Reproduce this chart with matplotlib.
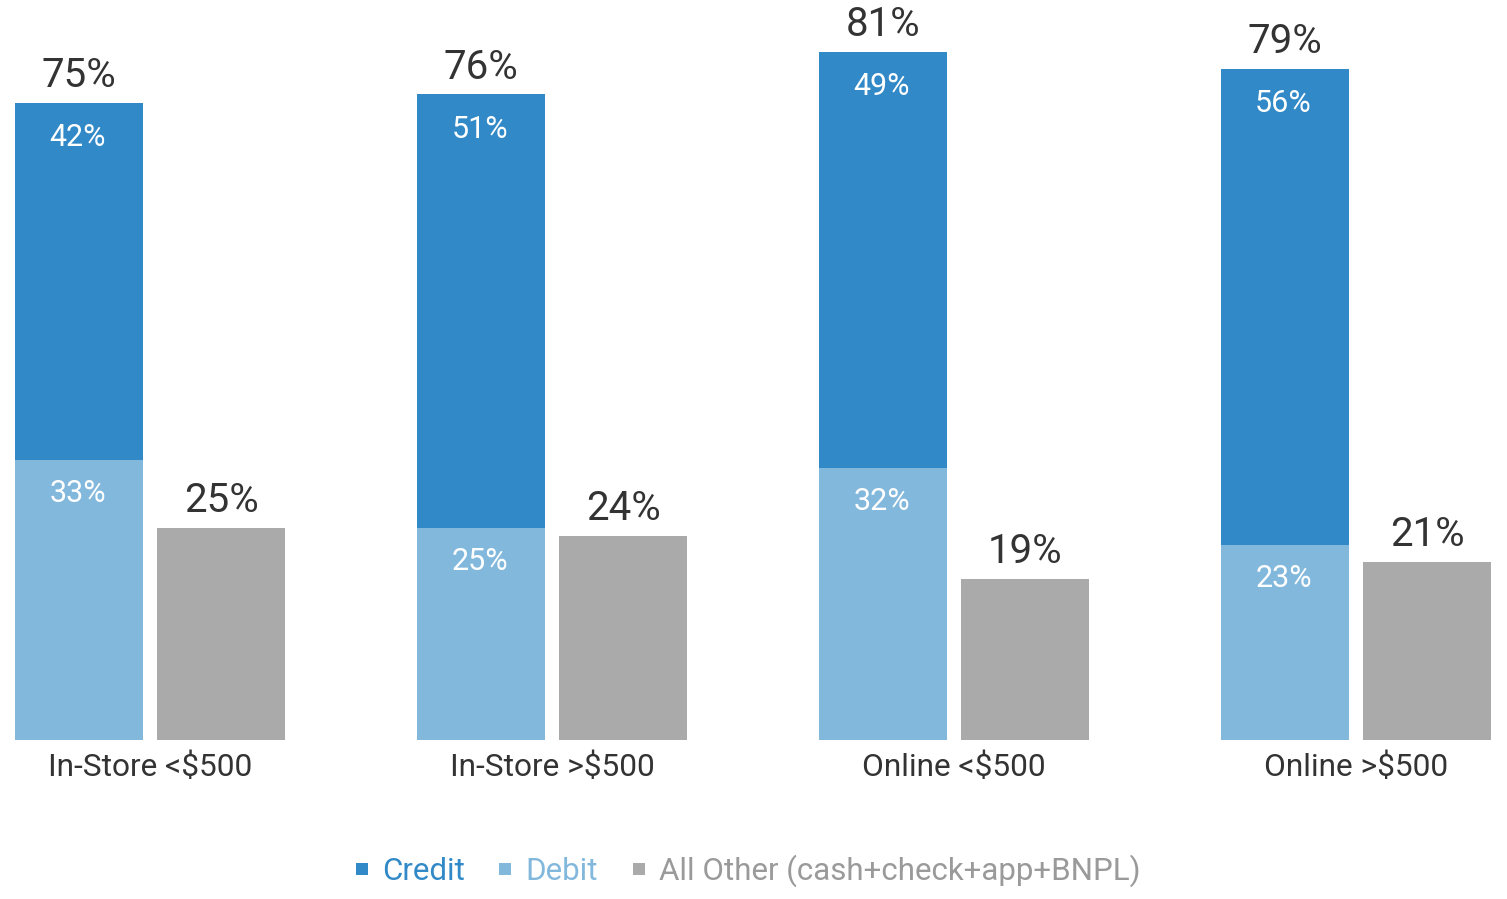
import matplotlib
matplotlib.use("Agg")
import matplotlib.pyplot as plt
from matplotlib.lines import Line2D
import numpy as np

categories = ["In-Store <$500", "In-Store >$500", "Online <$500", "Online >$500"]
credit = [42, 51, 49, 56]
debit = [33, 25, 32, 23]
other = [25, 24, 19, 21]
series_names = ["Credit", "Debit", "All Other (cash+check+app+BNPL)"]

C_CREDIT = "#3189C7"
C_DEBIT = "#83B8DD"
C_OTHER = "#AAAAAA"
C_TEXT = "#333333"
LEG_TEXT = [C_CREDIT, C_DEBIT, "#9A9A9A"]

plt.rcParams["font.family"] = ["Roboto", "DejaVu Sans"]

W, H, DPI = 1507, 899, 100
fig = plt.figure(figsize=(W / DPI, H / DPI), dpi=DPI)

base_px = 740
px_per_unit = 8.5
group_px = 402.0
first_center_px = 150.0

ax = fig.add_axes([0, (H - base_px) / H, 1, base_px / H])
ax.set_xlim(-first_center_px / group_px, (W - first_center_px) / group_px)
ax.set_ylim(0, base_px / px_per_unit)
ax.axis("off")

x = np.arange(len(categories))
bw = 128 / group_px
off = 71 / group_px

ax.bar(x - off, debit, width=bw, color=C_DEBIT, linewidth=0)
ax.bar(x - off, credit, bottom=debit, width=bw, color=C_CREDIT, linewidth=0)
ax.bar(x + off, other, width=bw, color=C_OTHER, linewidth=0)

for i in range(len(categories)):
    total = credit[i] + debit[i]
    ax.annotate(f"{total}%", (x[i] - off, total), xytext=(0, 11), textcoords="offset points",
                ha="center", va="baseline", fontsize=29, color=C_TEXT)
    ax.annotate(f"{credit[i]}%", (x[i] - off, total), xytext=(-1, -31.5), textcoords="offset points",
                ha="center", va="baseline", fontsize=22, color="white")
    ax.annotate(f"{debit[i]}%", (x[i] - off, debit[i]), xytext=(-1, -30.5), textcoords="offset points",
                ha="center", va="baseline", fontsize=22, color="white")
    ax.annotate(f"{other[i]}%", (x[i] + off, other[i]), xytext=(0, 11.5), textcoords="offset points",
                ha="center", va="baseline", fontsize=29, color=C_TEXT)
    ax.annotate(categories[i], (x[i], 0), xytext=(0, -26), textcoords="offset points",
                ha="center", va="baseline", fontsize=22.8, color=C_TEXT, annotation_clip=False)

handles = [Line2D([], [], linestyle="none", marker="s", markersize=8, color=c, markeredgewidth=0)
           for c in [C_CREDIT, C_DEBIT, C_OTHER]]
leg = fig.legend(handles, series_names, loc="center", bbox_to_anchor=(748 / W, 1 - 871 / H),
                 ncol=3, frameon=False, fontsize=22.5, handlelength=0.4, handletextpad=0.45,
                 columnspacing=1.1, borderpad=0, labelcolor=LEG_TEXT)

fig.savefig("out.png", dpi=DPI)
